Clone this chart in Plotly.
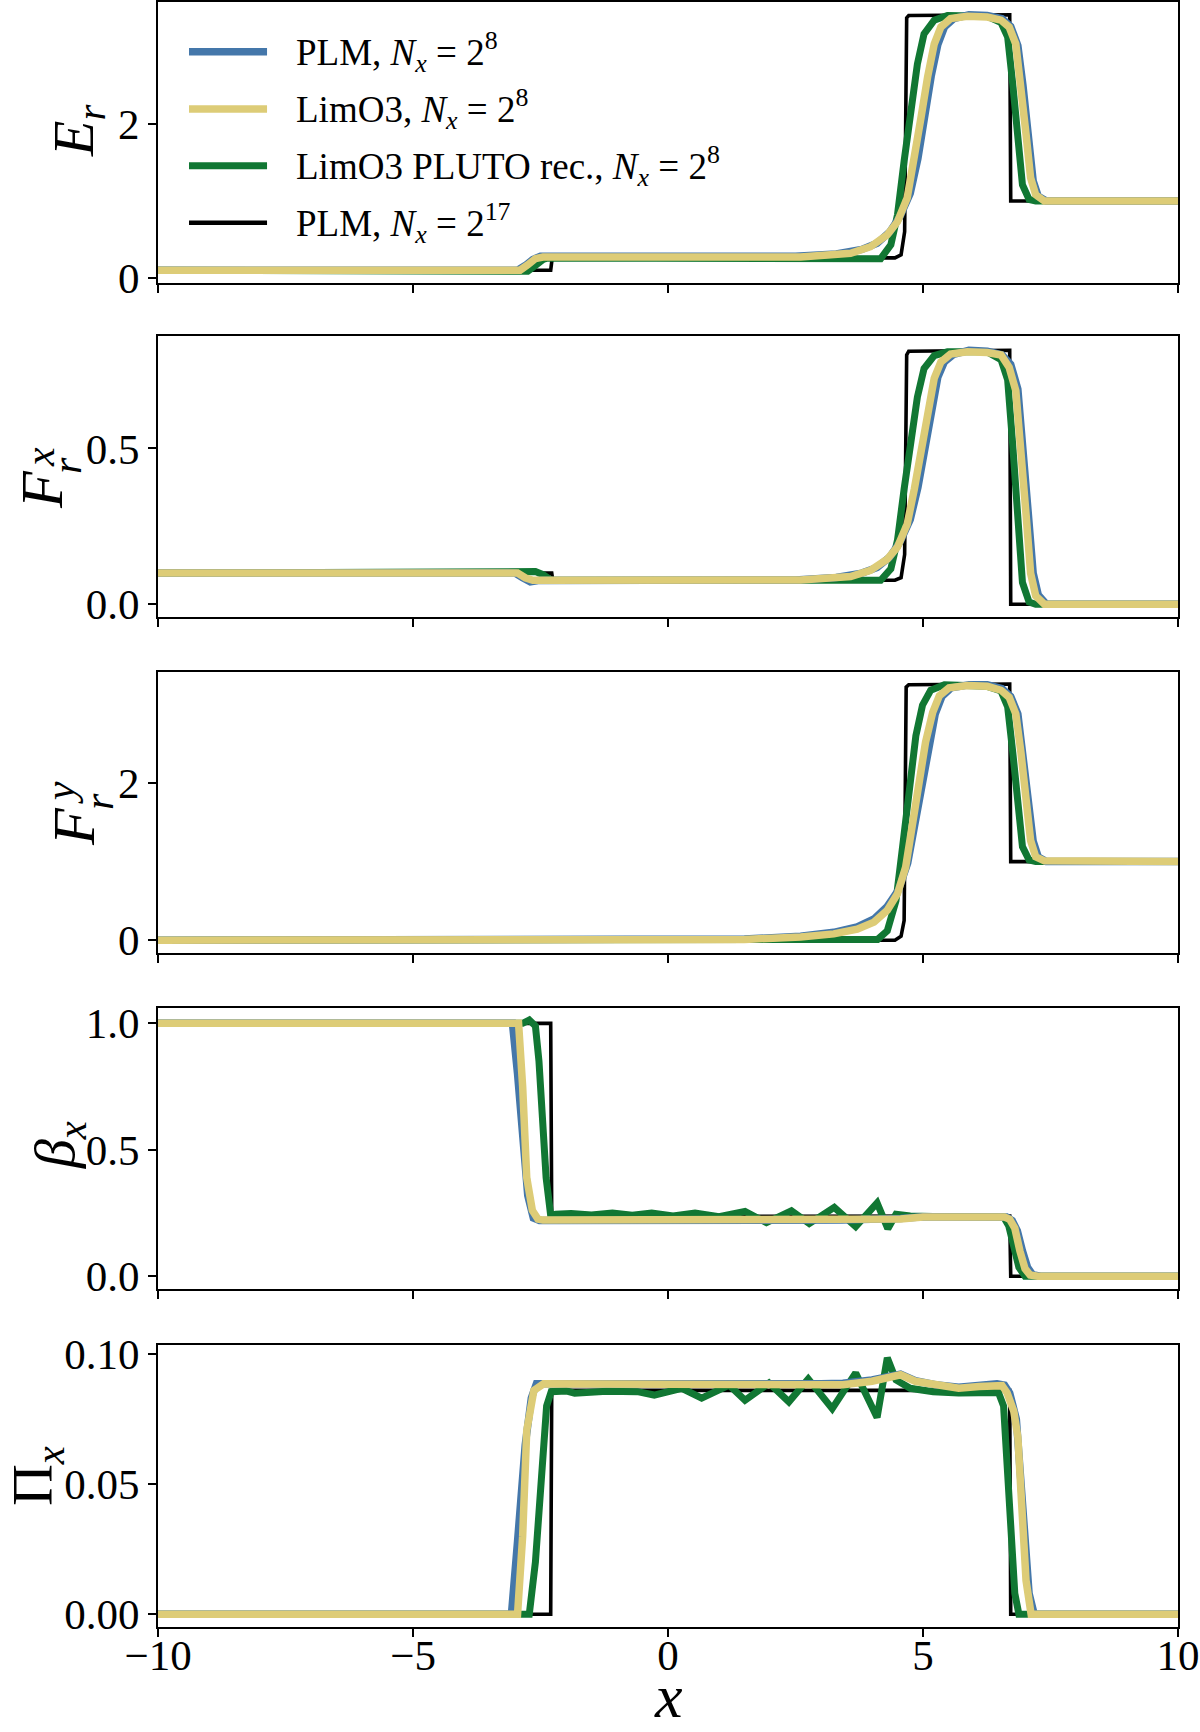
import plotly.graph_objects as go

# ---------------- data ----------------
series_names = [
    "PLM, <i>N<sub>x</sub></i> = 2<sup>8</sup>",
    "LimO3, <i>N<sub>x</sub></i> = 2<sup>8</sup>",
    "LimO3 PLUTO rec., <i>N<sub>x</sub></i> = 2<sup>8</sup>",
    "PLM, <i>N<sub>x</sub></i> = 2<sup>17</sup>",
]
x_ticks = [-10, -5, 0, 5, 10]
x_ticktext = ["−10", "−5", "0", "5", "10"]
y_ticks = [[0, 2], [0.0, 0.5], [0, 2], [0.0, 0.5, 1.0], [0.0, 0.05, 0.10]]
y_ticktext = [["0", "2"], ["0.0", "0.5"], ["0", "2"], ["0.0", "0.5", "1.0"], ["0.00", "0.05", "0.10"]]

# ---- E_r ----
Er_ref_x = [-10, -2.30, -2.27, 4.45, 4.57, 4.64, 4.68, 4.72, 6.70, 6.72, 10]
Er_ref_y = [0.10, 0.10, 0.26, 0.26, 0.30, 0.60, 3.38, 3.41, 3.42, 1.0, 1.0]
Er_plm_x = [-10, -2.95, -2.80, -2.65, -2.50, 2.5, 3.3, 3.8, 4.1, 4.35, 4.55, 4.75, 4.90, 5.03, 5.16, 5.29,
            5.42, 5.60, 5.90, 6.26, 6.55, 6.72, 6.86, 6.96, 7.06, 7.16, 7.26, 7.42, 10]
Er_plm_y = [0.10, 0.10, 0.16, 0.24, 0.28, 0.28, 0.31, 0.37, 0.45, 0.60, 0.80, 1.10, 1.55, 2.10, 2.62, 3.03,
            3.26, 3.37, 3.42, 3.41, 3.37, 3.27, 3.02, 2.50, 1.82, 1.26, 1.06, 1.0, 1.0]
Er_lim_x = [-10, -2.90, -2.75, -2.60, -2.45, 2.6, 3.58, 3.97, 4.30, 4.50, 4.69, 4.83, 4.96, 5.09, 5.22,
            5.35, 5.54, 5.87, 6.26, 6.53, 6.69, 6.82, 6.92, 7.02, 7.11, 7.21, 7.38, 10]
Er_lim_y = [0.10, 0.10, 0.17, 0.25, 0.27, 0.27, 0.32, 0.405, 0.56, 0.73, 1.04, 1.52, 2.08, 2.61, 3.04,
            3.26, 3.37, 3.40, 3.39, 3.35, 3.26, 3.04, 2.52, 1.87, 1.30, 1.08, 1.0, 1.0]
Er_plu_x = [-10, -2.95, -2.75, -2.60, -2.45, -2.35, 0.5, 1.5, 2.5, 3.3, 3.8, 4.17, 4.37, 4.50, 4.63, 4.76,
            4.89, 5.02, 5.22, 5.48, 6.26, 6.53, 6.66, 6.76, 6.85, 6.95, 7.08, 7.21, 10]
Er_plu_y = [0.10, 0.10, 0.085, 0.16, 0.24, 0.26, 0.255, 0.25, 0.245, 0.24, 0.235, 0.25, 0.43, 0.82, 1.52, 2.17,
            2.78, 3.17, 3.35, 3.41, 3.40, 3.32, 3.13, 2.52, 1.78, 1.21, 1.02, 1.0, 1.0]

# ---- F_r^x ----
Fx_ref_x = [-10, -2.28, -2.26, 4.45, 4.57, 4.64, 4.68, 4.72, 6.70, 6.72, 10]
Fx_ref_y = [0.10, 0.10, 0.077, 0.077, 0.085, 0.16, 0.80, 0.812, 0.815, 0.0, 0.0]
Fx_plm_x = [-10, -3.0, -2.85, -2.70, -2.55, 2.5, 3.3, 3.8, 4.1, 4.35, 4.55, 4.75, 4.90, 5.03, 5.16, 5.29,
            5.42, 5.60, 5.90, 6.26, 6.55, 6.72, 6.86, 6.96, 7.06, 7.16, 7.26, 7.42, 10]
Fx_plm_y = [0.10, 0.10, 0.085, 0.072, 0.076, 0.078, 0.086, 0.100, 0.118, 0.152, 0.20, 0.272, 0.375, 0.505,
            0.63, 0.728, 0.778, 0.802, 0.815, 0.812, 0.80, 0.77, 0.69, 0.52, 0.30, 0.10, 0.03, 0.0, 0.0]
Fx_lim_x = [-10, -2.95, -2.80, -2.65, 2.6, 3.58, 3.97, 4.30, 4.50, 4.69, 4.83, 4.96, 5.09, 5.22, 5.35,
            5.54, 5.87, 6.26, 6.53, 6.69, 6.82, 6.92, 7.02, 7.11, 7.21, 7.38, 10]
Fx_lim_y = [0.10, 0.10, 0.085, 0.077, 0.078, 0.089, 0.109, 0.145, 0.184, 0.257, 0.370, 0.500, 0.625, 0.725,
            0.777, 0.803, 0.81, 0.808, 0.80, 0.76, 0.685, 0.51, 0.29, 0.10, 0.027, 0.0, 0.0]
Fx_plu_x = [-10, -2.75, -2.60, -2.45, -2.30, 0.5, 2.5, 3.3, 3.8, 4.17, 4.37, 4.50, 4.63, 4.76, 4.89, 5.02,
            5.22, 5.48, 6.26, 6.53, 6.66, 6.76, 6.85, 6.95, 7.08, 7.21, 10]
Fx_plu_y = [0.10, 0.10, 0.105, 0.095, 0.078, 0.077, 0.076, 0.076, 0.075, 0.077, 0.114, 0.206, 0.37, 0.522,
            0.665, 0.756, 0.798, 0.81, 0.81, 0.785, 0.72, 0.51, 0.26, 0.07, 0.007, 0.0, 0.0]

# ---- F_r^y ----
Fy_ref_x = [-10, 4.45, 4.57, 4.63, 4.67, 4.72, 6.70, 6.72, 10]
Fy_ref_y = [0.0, 0.0, 0.05, 0.25, 3.22, 3.25, 3.26, 1.0, 1.0]
Fy_plm_x = [-10, 0.0, 1.5, 2.6, 3.25, 3.71, 4.04, 4.30, 4.52, 4.70, 4.84, 4.97, 5.10, 5.24, 5.37, 5.55,
            5.90, 6.26, 6.55, 6.72, 6.86, 6.96, 7.06, 7.16, 7.26, 7.42, 10]
Fy_plm_y = [0.0, 0.0, 0.015, 0.05, 0.10, 0.17, 0.27, 0.43, 0.64, 0.98, 1.47, 2.00, 2.50, 2.88, 3.10, 3.21,
            3.25, 3.25, 3.20, 3.10, 2.88, 2.38, 1.78, 1.26, 1.06, 1.0, 1.0]
Fy_lim_x = [-10, 0.0, 1.5, 2.6, 3.25, 3.71, 4.04, 4.30, 4.50, 4.66, 4.79, 4.92, 5.05, 5.19, 5.32, 5.51,
            5.87, 6.26, 6.53, 6.69, 6.82, 6.92, 7.02, 7.11, 7.21, 7.38, 10]
Fy_lim_y = [0.0, 0.0, 0.01, 0.04, 0.08, 0.14, 0.23, 0.38, 0.59, 0.93, 1.45, 2.00, 2.52, 2.90, 3.11, 3.21,
            3.24, 3.23, 3.18, 3.09, 2.88, 2.39, 1.79, 1.27, 1.06, 1.01, 1.0]
Fy_plu_x = [-10, 3.58, 4.11, 4.30, 4.47, 4.60, 4.73, 4.86, 4.99, 5.15, 5.42, 6.26, 6.53, 6.66, 6.76, 6.85,
            6.95, 7.08, 7.21, 10]
Fy_plu_y = [0.0, 0.0, 0.01, 0.12, 0.50, 1.19, 1.96, 2.60, 2.99, 3.18, 3.25, 3.23, 3.17, 2.97, 2.39, 1.70,
            1.19, 1.02, 1.0, 1.0]

# ---- beta_x ----
Bx_ref_x = [-10, -2.30, -2.28, 6.70, 6.72, 10]
Bx_ref_y = [1.0, 1.0, 0.236, 0.238, 0.0, 0.0]
Bx_plm_x = [-10, -3.05, -2.95, -2.86, -2.75, -2.64, -2.52, 3.4, 4.0, 4.56, 5.0, 6.0, 6.64, 6.75, 6.85,
            6.95, 7.05, 7.15, 7.30, 10]
Bx_plm_y = [1.0, 1.0, 0.80, 0.55, 0.32, 0.23, 0.22, 0.222, 0.223, 0.228, 0.235, 0.236, 0.234, 0.22, 0.18,
            0.10, 0.035, 0.006, 0.0, 0.0]
Bx_lim_x = [-10, -2.93, -2.85, -2.77, -2.66, -2.55, -2.45, 3.4, 4.0, 4.56, 5.0, 5.5, 6.0, 6.60, 6.70,
            6.80, 6.90, 7.00, 7.10, 7.25, 10]
Bx_lim_y = [1.0, 1.0, 0.75, 0.39, 0.26, 0.226, 0.222, 0.222, 0.222, 0.226, 0.234, 0.235, 0.235, 0.234,
            0.225, 0.19, 0.10, 0.03, 0.005, 0.0, 0.0]
Bx_plu_x = [-10, -2.85, -2.72, -2.60, -2.53, -2.45, -2.39, -2.30, -2.2, -1.9, -1.5, -1.09, -0.7, -0.32,
            0.1, 0.53, 1.0, 1.51, 1.93, 2.42, 2.77, 3.26, 3.68, 4.10, 4.31, 4.47, 4.75, 5.2, 6.0, 6.58,
            6.68, 6.78, 6.88, 7.0, 10]
Bx_plu_y = [1.0, 1.0, 1.013, 0.99, 0.85, 0.62, 0.39, 0.24, 0.245, 0.248, 0.242, 0.25, 0.241, 0.25,
            0.238, 0.25, 0.235, 0.256, 0.212, 0.259, 0.208, 0.272, 0.196, 0.29, 0.188, 0.245, 0.238,
            0.236, 0.236, 0.234, 0.2, 0.11, 0.035, 0.0, 0.0]

# ---- Pi_x ----
Px_ref_x = [-10, -2.30, -2.28, 6.70, 6.72, 10]
Px_ref_y = [0.0, 0.0, 0.086, 0.086, 0.0, 0.0]
Px_plm_x = [-10, -3.07, -2.95, -2.80, -2.68, -2.58, 3.0, 3.43, 4.0, 4.30, 4.56, 4.85, 5.24, 5.70, 6.10,
            6.45, 6.60, 6.70, 6.83, 6.92, 7.00, 7.08, 7.18, 10]
Px_plm_y = [0.0, 0.0, 0.028, 0.065, 0.083, 0.0885, 0.0885, 0.0887, 0.090, 0.0915, 0.0922, 0.0897, 0.0882,
            0.0872, 0.0878, 0.0885, 0.088, 0.085, 0.075, 0.05, 0.025, 0.008, 0.0, 0.0]
Px_lim_x = [-10, -2.95, -2.85, -2.77, -2.63, -2.44, 0.0, 3.0, 3.43, 4.0, 4.30, 4.56, 4.85, 5.24, 5.70,
            6.10, 6.40, 6.55, 6.65, 6.78, 6.86, 6.94, 7.02, 7.12, 10]
Px_lim_y = [0.0, 0.0, 0.03, 0.0705, 0.086, 0.0885, 0.0883, 0.088, 0.0882, 0.0895, 0.0912, 0.092, 0.0895,
            0.088, 0.0868, 0.0875, 0.088, 0.0878, 0.085, 0.078, 0.068, 0.04, 0.013, 0.0, 0.0]
Px_plu_x = [-10, -2.72, -2.60, -2.48, -2.38, -2.29, -2.0, -1.83, -1.2, -0.6, -0.27, 0.27, 0.66, 1.20,
            1.51, 1.98, 2.37, 2.75, 3.22, 3.68, 4.10, 4.30, 4.47, 4.75, 5.2, 5.7, 6.2, 6.48, 6.58, 6.66,
            6.72, 6.80, 6.88, 10]
Px_plu_y = [0.0, 0.0, 0.02, 0.055, 0.08, 0.0855, 0.0858, 0.0849, 0.0857, 0.0855, 0.0842, 0.0868, 0.083,
            0.088, 0.0822, 0.0888, 0.0816, 0.0904, 0.079, 0.0927, 0.0756, 0.0985, 0.090, 0.0868, 0.0855,
            0.085, 0.085, 0.0852, 0.08, 0.055, 0.031, 0.008, 0.0, 0.0]

# ---------------- styling ----------------
FONT = "Liberation Serif, Times New Roman, serif"
colors = {"plm": "#4477AA", "lim": "#DDCC77", "plu": "#117733", "ref": "#000000"}
widths = {"plm": 7.5, "lim": 7.5, "plu": 7.0, "ref": 3.6}

panels = [
    {"ref": (Er_ref_x, Er_ref_y), "plm": (Er_plm_x, Er_plm_y), "lim": (Er_lim_x, Er_lim_y), "plu": (Er_plu_x, Er_plu_y)},
    {"ref": (Fx_ref_x, Fx_ref_y), "plm": (Fx_plm_x, Fx_plm_y), "lim": (Fx_lim_x, Fx_lim_y), "plu": (Fx_plu_x, Fx_plu_y)},
    {"ref": (Fy_ref_x, Fy_ref_y), "plm": (Fy_plm_x, Fy_plm_y), "lim": (Fy_lim_x, Fy_lim_y), "plu": (Fy_plu_x, Fy_plu_y)},
    {"ref": (Bx_ref_x, Bx_ref_y), "plm": (Bx_plm_x, Bx_plm_y), "lim": (Bx_lim_x, Bx_lim_y), "plu": (Bx_plu_x, Bx_plu_y)},
    {"ref": (Px_ref_x, Px_ref_y), "plm": (Px_plm_x, Px_plm_y), "lim": (Px_lim_x, Px_lim_y), "plu": (Px_plu_x, Px_plu_y)},
]
name_of = {"plm": series_names[0], "lim": series_names[1], "plu": series_names[2], "ref": series_names[3]}

domains = [[0.8271, 1.0], [0.6215, 0.7945], [0.4148, 0.5877], [0.2080, 0.3809], [0.0, 0.1735]]
yranges = [[-0.066, 3.586], [-0.041, 0.861], [-0.1625, 3.4125], [-0.0505, 1.0605], [-0.0049, 0.1034]]

# y-axis labels: (text, x_paper, y_paper, size)
label_parts = [
    ("<i>E<sub>r</sub></i>", -0.0794, 0.9206, 58),
    ("<i>F</i>", -0.1137, 0.6997, 60),
    ("<i>x</i>", -0.1157, 0.7200, 42),
    ("<i>r</i>", -0.0892, 0.7145, 42),
    ("<i>F</i>", -0.0824, 0.4929, 60),
    ("<i>y</i>", -0.0960, 0.5132, 42),
    ("<i>r</i>", -0.0578, 0.5077, 42),
    ("<i>β<sub>x</sub></i>", -0.0980, 0.2966, 58),
    ("Π<sub><i>x</i></sub>", -0.1196, 0.0929, 58),
]

fig = go.Figure()
for i, p in enumerate(panels):
    xa = "x" if i == 0 else f"x{i+1}"
    ya = "y" if i == 0 else f"y{i+1}"
    for key in ["ref", "plu", "plm", "lim"]:
        xs, ys = p[key]
        fig.add_trace(go.Scatter(
            x=xs, y=ys, mode="lines", name=name_of[key], xaxis=xa, yaxis=ya,
            line=dict(color=colors[key], width=widths[key]), showlegend=False,
            hoverinfo="skip"))

layout = dict(
    width=1200, height=1732,
    margin=dict(l=158, r=22, t=2, b=105),
    paper_bgcolor="white", plot_bgcolor="white",
    font=dict(family=FONT, size=43, color="black"),
    showlegend=False,
)
axis_common = dict(showline=True, linecolor="black", linewidth=1.6, mirror=True, showgrid=False,
                   zeroline=False, ticks="outside", ticklen=8, tickwidth=1.5, tickcolor="black",
                   automargin=False)
annotations = []
for i in range(5):
    sx = "" if i == 0 else str(i + 1)
    layout[f"xaxis{sx}"] = dict(axis_common, domain=[0, 1], anchor=f"y{sx}", range=[-10, 10],
                                tickvals=x_ticks, ticktext=x_ticktext, showticklabels=(i == 4),
                                ticklabelstandoff=-18,
                                tickfont=dict(size=43, family=FONT))
    layout[f"yaxis{sx}"] = dict(axis_common, domain=domains[i], anchor=f"x{sx}", range=yranges[i],
                                tickvals=y_ticks[i], ticktext=y_ticktext[i],
                                tickfont=dict(size=43, family=FONT))
for txt, lx, ly, sz in label_parts:
    annotations.append(dict(text=txt, xref="paper", yref="paper", x=lx, y=ly,
                            xanchor="center", yanchor="middle", textangle=-90, showarrow=False,
                            font=dict(size=sz, family=FONT, color="black")))
annotations.append(dict(text="<i>x</i>", xref="paper", yref="paper", x=0.5, y=-0.0645,
                        xanchor="center", yanchor="bottom", showarrow=False,
                        font=dict(size=62, family=FONT, color="black")))

# hand-drawn legend inside the top panel
leg_rows = [0.9694, 0.9342, 0.8993, 0.8642]
leg_keys = ["plm", "lim", "plu", "ref"]
shapes = []
for key, yy in zip(leg_keys, leg_rows):
    shapes.append(dict(type="line", xref="paper", yref="paper", x0=0.0304, x1=0.1069, y0=yy, y1=yy,
                       line=dict(color=colors[key], width=widths[key] if key != "ref" else 4.5)))
    annotations.append(dict(text=name_of[key], xref="paper", yref="paper", x=0.1333, y=yy,
                            xanchor="left", yanchor="middle", showarrow=False,
                            font=dict(size=37, family=FONT, color="black")))
layout["annotations"] = annotations
layout["shapes"] = shapes
fig.update_layout(**layout)
fig.write_html("out.html")
